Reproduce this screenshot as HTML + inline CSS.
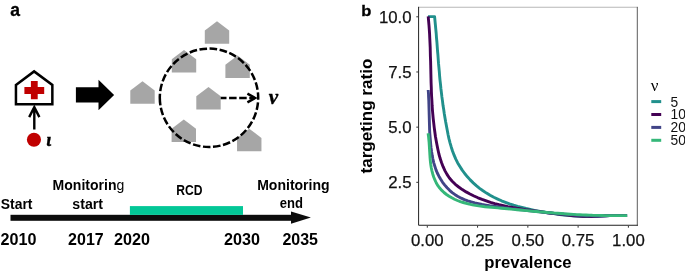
<!DOCTYPE html>
<html lang="en"><head><meta charset="utf-8"><title>Figure</title>
<style>html,body{margin:0;padding:0;background:#fff}body{width:685px;height:272px;overflow:hidden}svg{display:block;will-change:transform}</style></head>
<body>
<svg width="685" height="272" viewBox="0 0 685 272">
<rect width="685" height="272" fill="#fff"/>
<text x="10.3" y="16.3" font-family="'Liberation Sans',sans-serif" font-weight="700" font-size="17.5" stroke="#000" stroke-width="0.3">a</text>
<polygon points="15.95,85 34.1,71.4 52.35,85 52.35,104.2 15.95,104.2" fill="#fff" stroke="#000" stroke-width="2.5" stroke-linejoin="miter"/>
<path d="M30.9,81.1h6.8v5.8h6.5v7.1h-6.5v5.3h-6.8v-5.3h-6.5v-7.1h6.5z" fill="#c00000"/>
<path d="M34.3,129.4V107.5M29.2,117.1L34.3,107.2L39.4,117.1" fill="none" stroke="#000" stroke-width="2.4"/>
<circle cx="33.95" cy="139.8" r="7.05" fill="#c00000"/>
<text x="46.3" y="145.8" font-family="'Liberation Serif',serif" font-style="italic" font-weight="700" font-size="18.5" stroke="#000" stroke-width="0.4">ι</text>
<polygon points="75.9,87.3 98.5,87.3 98.5,79.7 114.1,95 98.5,110.2 98.5,102.6 75.9,102.6" fill="#000"/>
<g fill="#a6a6a6">
<polygon points="204.80,30.50 217.00,21.25 229.20,30.50 229.20,43.85 204.80,43.85"/>
<polygon points="171.80,59.25 184.00,50.00 196.20,59.25 196.20,72.60 171.80,72.60"/>
<polygon points="225.40,64.75 237.60,55.50 249.80,64.75 249.80,78.10 225.40,78.10"/>
<polygon points="130.30,90.50 142.50,81.25 154.70,90.50 154.70,103.85 130.30,103.85"/>
<polygon points="196.30,96.25 208.50,87.00 220.70,96.25 220.70,109.60 196.30,109.60"/>
<polygon points="171.60,128.75 183.80,119.50 196.00,128.75 196.00,142.10 171.60,142.10"/>
<polygon points="237.05,138.00 249.25,128.75 261.45,138.00 261.45,151.35 237.05,151.35"/>
</g>
<path d="M159.8,97.8 A49.2,49.2 0 1 0 258.2,97.8 A49.2,49.2 0 1 0 159.8,97.8" fill="none" stroke="#000" stroke-width="2.5" stroke-dasharray="7.6 2.55"/>
<path d="M220.7,98.0H254" fill="none" stroke="#000" stroke-width="2.4" stroke-dasharray="7.5 2.6" stroke-dashoffset="1.7"/>
<path d="M247.4,93.7L255.1,98.0L247.4,102.3" fill="none" stroke="#000" stroke-width="2.5"/>
<text x="268.8" y="103.9" font-family="'Liberation Serif',serif" font-style="italic" font-weight="700" font-size="21" stroke="#000" stroke-width="0.4">ν</text>
<rect x="10.5" y="214.8" width="281" height="6.0" fill="#0d0d0d"/>
<polygon points="291,211.5 310.9,217.6 291,223.7" fill="#0d0d0d"/>
<rect x="129.9" y="206.1" width="113.1" height="8.8" fill="#03c797"/>
<text x="0.8" y="209.1" font-family="'Liberation Sans',sans-serif" font-weight="700" font-size="14" text-anchor="start" textLength="31.7" lengthAdjust="spacingAndGlyphs">Start</text>
<text x="52.6" y="189.5" font-family="'Liberation Sans',sans-serif" font-weight="700" font-size="14" text-anchor="start" textLength="71.7" lengthAdjust="spacingAndGlyphs">Monitorin<tspan font-weight="400">g</tspan></text>
<text x="72.3" y="209.1" font-family="'Liberation Sans',sans-serif" font-weight="700" font-size="14" text-anchor="start" textLength="30.7" lengthAdjust="spacingAndGlyphs">start</text>
<text x="176.3" y="195.0" font-family="'Liberation Sans',sans-serif" font-weight="700" font-size="14" text-anchor="start" textLength="26.2" lengthAdjust="spacingAndGlyphs">RCD</text>
<text x="257.2" y="189.5" font-family="'Liberation Sans',sans-serif" font-weight="700" font-size="14" text-anchor="start" textLength="72.4" lengthAdjust="spacingAndGlyphs">Monitoring</text>
<text x="279.8" y="207.9" font-family="'Liberation Sans',sans-serif" font-weight="700" font-size="14" text-anchor="start" textLength="23.2" lengthAdjust="spacingAndGlyphs">end</text>
<text x="0.4" y="245.4" font-family="'Liberation Sans',sans-serif" font-weight="700" font-size="15.6" text-anchor="start" textLength="36" lengthAdjust="spacingAndGlyphs">2010</text>
<text x="68.1" y="245.4" font-family="'Liberation Sans',sans-serif" font-weight="700" font-size="15.6" text-anchor="start" textLength="35.6" lengthAdjust="spacingAndGlyphs">2017</text>
<text x="114.0" y="245.4" font-family="'Liberation Sans',sans-serif" font-weight="700" font-size="15.6" text-anchor="start" textLength="36" lengthAdjust="spacingAndGlyphs">2020</text>
<text x="224.0" y="245.4" font-family="'Liberation Sans',sans-serif" font-weight="700" font-size="15.6" text-anchor="start" textLength="36" lengthAdjust="spacingAndGlyphs">2030</text>
<text x="282.4" y="245.4" font-family="'Liberation Sans',sans-serif" font-weight="700" font-size="15.6" text-anchor="start" textLength="35.6" lengthAdjust="spacingAndGlyphs">2035</text>
<text x="361.2" y="16.3" font-family="'Liberation Sans',sans-serif" font-weight="700" font-size="15.2" textLength="10.1" lengthAdjust="spacingAndGlyphs" stroke="#000" stroke-width="0.3">b</text>
<path d="M418.1,7.25H637.8" fill="none" stroke="#999" stroke-width="0.7"/>
<path d="M637.3,6.9V225.7" fill="none" stroke="#5c5c5c" stroke-width="1"/>
<path d="M418.6,6.85V225.25H637.85" fill="none" stroke="#222" stroke-width="1"/>
<g fill="none" stroke-width="2.9" stroke-linejoin="round">
<path d="M428.0,16.6 L434.6,16.6 L435.0,20.8 L435.4,25.0 L435.8,29.3 L436.2,33.5 L436.5,37.8 L436.9,42.0 L437.2,46.2 L437.5,50.5 L437.9,54.7 L438.2,59.0 L438.5,63.2 L438.9,67.4 L439.3,71.7 L439.6,75.9 L440.0,80.1 L440.5,84.3 L440.9,88.5 L441.4,92.7 L441.9,96.9 L442.5,101.1 L443.0,105.3 L443.7,109.5 L444.3,113.7 L445.0,117.9 L445.7,122.1 L446.5,126.3 L447.3,130.5 L448.1,134.7 L449.0,138.9 L450.1,143.1 L451.3,147.2 L452.6,151.3 L454.1,155.2 L455.8,159.1 L457.7,162.9 L459.9,166.5 L462.2,170.1 L464.7,173.5 L467.4,176.8 L470.2,179.9 L473.2,182.9 L476.3,185.7 L479.6,188.4 L483.0,190.8 L486.5,193.1 L490.1,195.3 L493.8,197.3 L497.7,199.1 L501.5,200.8 L505.5,202.3 L509.5,203.8 L513.6,205.1 L517.7,206.3 L521.9,207.4 L526.1,208.5 L530.3,209.4 L534.5,210.3 L538.7,211.1 L543.0,211.9 L547.2,212.6 L551.3,213.3 L555.5,213.9 L559.7,214.5 L563.8,215.0 L568.0,215.4 L572.1,215.8 L576.3,216.1 L580.5,216.3 L584.7,216.5 L588.9,216.5 L593.2,216.4 L597.4,216.3 L601.7,215.9 L606.0,215.7 L610.3,215.6 L614.6,215.6 L618.9,215.6 L623.1,215.6 L627.1,215.6" stroke="#21908c"/>
<path d="M428.2,16.4 L428.6,20.8 L429.0,25.3 L429.3,29.7 L429.6,34.2 L429.8,38.7 L430.0,43.1 L430.2,47.5 L430.3,52.0 L430.4,56.4 L430.6,60.9 L430.7,65.3 L430.8,69.7 L430.9,74.2 L431.0,78.6 L431.1,83.0 L431.3,87.5 L431.4,91.9 L431.6,96.3 L431.9,100.8 L432.1,105.2 L432.4,109.6 L432.8,114.1 L433.2,118.5 L433.7,122.9 L434.2,127.3 L434.8,131.8 L435.4,136.2 L436.2,140.7 L437.0,145.1 L437.9,149.5 L438.9,154.0 L440.1,158.3 L441.5,162.5 L443.1,166.7 L444.9,170.6 L447.0,174.4 L449.4,178.0 L452.2,181.2 L455.3,184.3 L458.7,187.0 L462.3,189.6 L466.1,191.9 L470.0,194.0 L474.0,196.0 L478.0,197.8 L482.1,199.4 L486.3,200.9 L490.5,202.3 L494.8,203.6 L499.1,204.7 L503.5,205.7 L507.8,206.7 L512.2,207.5 L516.6,208.3 L521.1,209.0 L525.5,209.7 L530.0,210.3 L534.4,210.9 L538.9,211.5 L543.3,212.1 L547.7,212.7 L552.1,213.2 L556.5,213.8 L560.8,214.4 L565.2,214.9 L569.6,215.3 L573.9,215.7 L578.3,216.1 L582.7,216.3 L587.1,216.4 L591.6,216.5 L596.0,216.4 L600.5,216.1 L605.0,215.8 L609.5,215.6 L614.0,215.6 L618.5,215.6 L622.9,215.6 L627.1,215.6" stroke="#440154"/>
<path d="M428.2,90.0 L428.5,93.6 L428.6,97.2 L428.8,100.7 L428.9,104.3 L429.0,107.9 L429.1,111.5 L429.2,115.1 L429.3,118.8 L429.4,122.4 L429.5,126.0 L429.6,129.7 L429.8,133.3 L430.1,137.0 L430.4,140.7 L430.7,144.3 L431.1,148.0 L431.6,151.7 L432.2,155.4 L432.9,159.0 L433.7,162.6 L434.8,166.2 L435.9,169.6 L437.3,173.0 L438.9,176.2 L440.7,179.3 L442.6,182.3 L444.8,185.1 L447.1,187.8 L449.6,190.3 L452.2,192.6 L455.1,194.7 L458.0,196.5 L461.2,198.2 L464.4,199.6 L467.8,200.8 L471.3,201.9 L474.8,202.9 L478.4,203.7 L482.1,204.5 L485.8,205.1 L489.5,205.7 L493.3,206.2 L497.0,206.7 L500.6,207.2 L504.3,207.7 L507.9,208.1 L511.5,208.6 L515.1,209.0 L518.7,209.5 L522.3,209.9 L525.9,210.3 L529.5,210.7 L533.0,211.1 L536.6,211.5 L540.2,211.9 L543.8,212.3 L547.4,212.7 L551.0,213.0 L554.6,213.4 L558.2,213.7 L561.9,214.0 L565.5,214.3 L569.1,214.6 L572.7,214.9 L576.4,215.2 L580.0,215.4 L583.6,215.6 L587.3,215.7 L590.9,215.9 L594.6,216.0 L598.2,216.1 L601.9,216.0 L605.5,215.8 L609.1,215.6 L612.8,215.6 L616.4,215.6 L620.0,215.6 L623.7,215.6 L627.1,215.6" stroke="#414487"/>
<path d="M428.1,133.2 L428.5,136.2 L428.8,139.3 L429.1,142.4 L429.3,145.5 L429.5,148.7 L429.7,151.9 L429.9,155.1 L430.1,158.4 L430.4,161.6 L430.8,164.8 L431.3,168.0 L432.0,171.1 L432.8,174.2 L433.8,177.3 L435.0,180.2 L436.3,183.0 L437.9,185.7 L439.7,188.1 L441.8,190.4 L444.0,192.5 L446.5,194.5 L449.1,196.2 L451.8,197.8 L454.5,199.2 L457.4,200.5 L460.3,201.6 L463.2,202.5 L466.3,203.4 L469.3,204.2 L472.4,204.8 L475.5,205.4 L478.7,205.9 L481.9,206.3 L485.0,206.7 L488.2,207.0 L491.5,207.3 L494.7,207.6 L497.9,207.9 L501.1,208.2 L504.3,208.5 L507.4,208.8 L510.6,209.1 L513.8,209.4 L517.0,209.7 L520.1,210.0 L523.3,210.3 L526.4,210.6 L529.6,210.9 L532.7,211.2 L535.9,211.5 L539.0,211.8 L542.1,212.0 L545.3,212.3 L548.4,212.6 L551.6,212.8 L554.7,213.1 L557.8,213.3 L561.0,213.5 L564.1,213.8 L567.2,214.0 L570.4,214.2 L573.5,214.4 L576.6,214.6 L579.8,214.7 L582.9,214.9 L586.1,215.0 L589.2,215.1 L592.4,215.3 L595.5,215.4 L598.7,215.4 L601.9,215.5 L605.0,215.6 L608.2,215.6 L611.4,215.6 L614.6,215.6 L617.8,215.6 L621.0,215.6 L624.2,215.6 L627.1,215.6" stroke="#35b779"/>
</g>
<g stroke="#333" stroke-width="1">
<path d="M416.3,16.80H418.2"/>
<path d="M416.3,71.97H418.2"/>
<path d="M416.3,127.15H418.2"/>
<path d="M416.3,182.32H418.2"/>
<path d="M427.30,225.8V227.7"/>
<path d="M477.57,225.8V227.7"/>
<path d="M527.85,225.8V227.7"/>
<path d="M578.12,225.8V227.7"/>
<path d="M628.40,225.8V227.7"/>
</g>
<g font-family="'Liberation Sans',sans-serif" font-size="16.8" fill="#111" stroke="#111" stroke-width="0.25">
<text x="411.6" y="22.50" text-anchor="end">10.0</text>
<text x="411.6" y="77.67" text-anchor="end">7.5</text>
<text x="411.6" y="132.85" text-anchor="end">5.0</text>
<text x="411.6" y="188.02" text-anchor="end">2.5</text>
<text x="427.30" y="246.1" text-anchor="middle">0.00</text>
<text x="477.57" y="246.1" text-anchor="middle">0.25</text>
<text x="527.85" y="246.1" text-anchor="middle">0.50</text>
<text x="578.12" y="246.1" text-anchor="middle">0.75</text>
<text x="628.40" y="246.1" text-anchor="middle">1.00</text>
</g>
<text x="527.9" y="267.7" text-anchor="middle" font-family="'Liberation Sans',sans-serif" font-weight="700" font-size="16.7">prevalence</text>
<text transform="translate(372.3,116.1) rotate(-90)" text-anchor="middle" font-family="'Liberation Sans',sans-serif" font-weight="700" font-size="17.1">targeting ratio</text>
<text x="650.8" y="90.6" font-family="'Liberation Serif',serif" font-size="17">ν</text>
<rect x="651.3" y="100.10" width="9.9" height="3" fill="#21908c"/>
<text x="670.6" y="106.50" font-family="'Liberation Sans',sans-serif" font-size="13.8" fill="#111">5</text>
<rect x="651.3" y="113.00" width="9.9" height="3" fill="#440154"/>
<text x="670.6" y="119.40" font-family="'Liberation Sans',sans-serif" font-size="13.8" fill="#111">10</text>
<rect x="651.3" y="125.90" width="9.9" height="3" fill="#414487"/>
<text x="670.6" y="132.30" font-family="'Liberation Sans',sans-serif" font-size="13.8" fill="#111">20</text>
<rect x="651.3" y="138.80" width="9.9" height="3" fill="#35b779"/>
<text x="670.6" y="145.20" font-family="'Liberation Sans',sans-serif" font-size="13.8" fill="#111">50</text>
</svg>
</body></html>
